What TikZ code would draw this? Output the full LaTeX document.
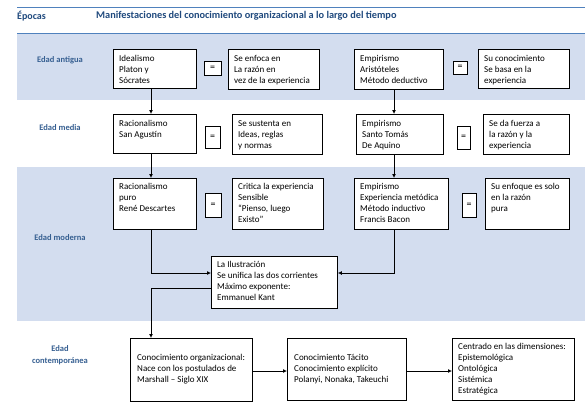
\documentclass[tikz,border=0pt]{standalone}
\usepackage{fontspec}
\setmainfont{Carlito}
\usetikzlibrary{arrows.meta}
\definecolor{band}{RGB}{211,221,239}
\definecolor{hdr}{RGB}{31,73,125}
\definecolor{lbl}{RGB}{54,95,145}
\definecolor{rulecol}{RGB}{79,129,189}
\newcommand\bx[8]{%
  \node[box,minimum width={(#4-#2)*1pt},minimum height={(#5-#3)*1pt}] (#1) at (#2,#3) {};
  \node[txt] (#1t) at ([shift={(#6,#7)}]#1.north west) {#8};}
\newcommand\eqbox[5]{%
  \node[eqb,minimum width={#4*1pt},minimum height={#5*1pt}] (#1) at (#2,#3) {\raisebox{-1pt}{=}};}
\begin{document}
\begin{tikzpicture}[x=1pt,y=-1pt,
  box/.style={draw=black,fill=white,line width=0.9pt,inner sep=0,anchor=north west},
  txt/.style={anchor=north west,inner sep=0,align=left,font=\fontsize{9}{11}\selectfont},
  eqb/.style={draw=black,fill=white,line width=0.9pt,inner sep=0,font=\fontsize{10}{11}\selectfont},
  era/.style={font=\fontsize{8.5}{12}\selectfont\bfseries,text=lbl,align=center},
  hd/.style={anchor=west,inner sep=0,font=\fontsize{10}{12}\selectfont\bfseries,text=hdr},
  arr/.style={line width=0.9pt,-{Latex[length=4pt,width=4pt]}}]
\useasboundingbox (0,0) rectangle (585,404);
% bands and rules
\fill[band] (17,33) rectangle (585,100);
\fill[band] (17,167) rectangle (585,321);
\draw[rulecol,line width=0.9pt] (17,7) -- (585,7);
\draw[rulecol,line width=0.9pt] (17,33) -- (585,33);
% headers
\node[hd] (ep) at (17,16) {Épocas};
\node[hd,font=\fontsize{10.3}{12}\selectfont\bfseries] (tit) at (96,16) {Manifestaciones del conocimiento organizacional a lo largo del tiempo};
% era labels
\node[era] (ea) at (60,60) {Edad antigua};
\node[era] (em) at (60,128) {Edad media};
\node[era] (emo) at (60,238) {Edad moderna};
\node[era] (ec) at (60,355) {Edad\\contemporánea};
% Edad antigua
\bx{ide}{113}{49}{196}{88}{6}{6}{Idealismo\\Platon y\\Sócrates}
\eqbox{eq1}{212.5}{68}{17}{14}
\bx{enf}{228}{49}{319}{89}{6}{6}{Se enfoca en\\La razón en\\vez de la experiencia}
\bx{emp1}{354}{49}{443}{89}{6}{6}{Empirismo\\Aristóteles\\Método deductivo}
\eqbox{eq2}{460}{67.5}{14}{13}
\bx{suc}{478}{49}{569}{88}{6}{6}{Su conocimiento\\Se basa en la\\experiencia}
% Edad media
\bx{rac1}{113}{114}{196}{153}{6}{6}{Racionalismo\\San Agustín}
\eqbox{eq3}{212.5}{137}{15}{22}
\bx{sus}{232}{114}{322}{154}{6}{6}{Se sustenta en\\Ideas, reglas\\y normas}
\bx{emp2}{356}{114}{443}{154}{6}{6}{Empirismo\\Santo Tomás\\De Aquino}
\eqbox{eq4}{463.5}{137.5}{13}{23}
\bx{fue}{483}{114}{569}{154}{6}{6}{Se da fuerza a\\la razón y la\\experiencia}
% Edad moderna
\bx{rac2}{113}{178}{196}{229}{6}{5}{Racionalismo\\puro\\René Descartes}
\eqbox{eq5}{213}{205}{16}{24}
\bx{cri}{232}{178}{323}{229}{6}{5}{Critica la experiencia\\Sensible\\“Pienso, luego\\Existo”}
\bx{emp3}{354}{178}{448}{229}{6}{5}{Empirismo\\Experiencia metódica\\Método inductivo\\Francis Bacon}
\eqbox{eq6}{469}{205}{14}{24}
\bx{sue}{485}{178}{569}{229}{6}{5}{Su enfoque es solo\\en la razón\\pura}
\bx{ilu}{211}{256}{337}{308}{6}{5}{La Ilustración\\Se unifica las dos corrientes\\Máximo exponente:\\Emmanuel Kant}
% Edad contemporanea
\bx{org}{130}{338}{252}{401}{7}{16}{Conocimiento organizacional:\\Nace con los postulados de\\Marshall – Siglo XIX}
\bx{tac}{287}{338}{406}{400}{7}{16}{Conocimiento Tácito\\Conocimiento explícito\\Polanyi, Nonaka, Takeuchi}
\bx{cen}{452}{338}{574}{400}{6}{5.5}{Centrado en las dimensiones:\\Epistemológica\\Ontológica\\Sistémica\\Estratégica}
% helper coordinates
\coordinate (c1) at (151,0);
\coordinate (c2) at (394,0);
\coordinate (j1) at (0,273);
\coordinate (j2) at (0,288);
\coordinate (r1) at (0,371);
% connectors
\draw[arr] (ide.south -| c1) -- (rac1.north -| c1);
\draw[arr] (emp1.south -| c2) -- (emp2.north -| c2);
\draw[arr] (rac1.south -| c1) -- (rac2.north -| c1);
\draw[arr] (emp2.south -| c2) -- (emp3.north -| c2);
\draw[arr] (rac2.south -| c1) |- (ilu.west |- j1);
\draw[arr] (emp3.south -| c2) |- (ilu.east |- j1);
\draw[arr] (ilu.west |- j2) -| (org.north -| c1);
\draw[arr] (org.east |- r1) -- (tac.west |- r1);
\draw[arr] (tac.east |- r1) -- (cen.west |- r1);
\end{tikzpicture}
\end{document}
